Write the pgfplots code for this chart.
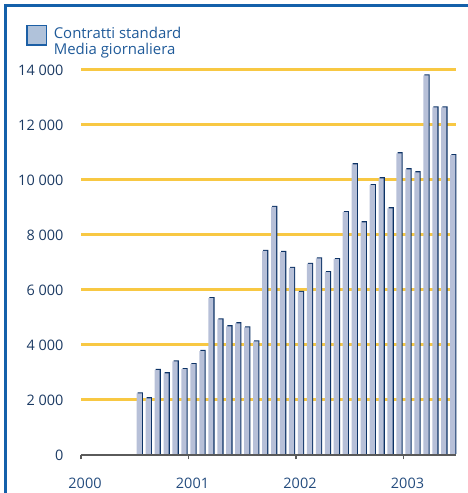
\documentclass[border=0pt]{standalone}
\usepackage{pgfplots}
\pgfplotsset{compat=1.18}
\usepackage{pgfplotstable}
\usepackage{fontspec}
\setmainfont{Open Sans}

\definecolor{barfill}{HTML}{B7C0D8}
\definecolor{bardark}{HTML}{0D3366}
\definecolor{gridgold}{HTML}{F8C843}
\definecolor{frameblue}{HTML}{1460AA}
\definecolor{legsq}{HTML}{B0C2DA}
\definecolor{legsqborder}{HTML}{1C5FA5}
\definecolor{legtext}{HTML}{1F5A99}
\definecolor{ticktext}{HTML}{1B3A63}
\definecolor{yeartext}{HTML}{244C7E}
\definecolor{axisgray}{HTML}{5A5A5A}

% mesi da gennaio 2000 (centro del mese), contratti medi giornalieri
\pgfplotstableread{
m val
6.5 2240
7.5 2060
8.5 3090
9.5 2970
10.5 3400
11.5 3120
12.5 3300
13.5 3780
14.5 5700
15.5 4930
16.5 4680
17.5 4790
18.5 4640
19.5 4130
20.5 7420
21.5 9020
22.5 7380
23.5 6800
24.5 5930
25.5 6950
26.5 7150
27.5 6650
28.5 7120
29.5 8830
30.5 10570
31.5 8460
32.5 9810
33.5 10060
34.5 8970
35.5 10970
36.5 10390
37.5 10280
38.5 13800
39.5 12640
40.5 12640
41.5 10900
}\contratti

\begin{document}
\begin{tikzpicture}
\useasboundingbox (0,0) rectangle (468bp,493bp);
\draw[frameblue, line width=3bp, line join=miter] (5.5bp,0) -- (5.5bp,487.5bp) -- (468bp,487.5bp);
\begin{axis}[
    at={(81bp,38bp)}, anchor=south west,
    width=375bp, height=385bp, scale only axis,
    xmin=0, xmax=41.86, ymin=0, ymax=14000,
    clip=false,
    axis x line*=bottom, axis y line*=left,
    y axis line style={draw=none},
    x axis line style={axisgray, line width=1.2bp},
    xtick={0,12,24,36}, xticklabels={2000,2001,2002,2003},
    tick align=outside, major tick length=4.5bp,
    xtick style={axisgray, line width=1.2bp},
    ytick={0,2000,...,14000},
    ytick style={draw=none},
    scaled y ticks=false,
    /pgf/number format/.cd, 1000 sep={\ }, assume math mode=true, /pgfplots/.cd,
    yticklabel style={font=\fontsize{14.5}{16}\selectfont, color=ticktext, anchor=east, inner sep=0pt, xshift=-13bp},
    xticklabel style={font=\fontsize{14.5}{16}\selectfont, color=yeartext, inner sep=0pt, xshift=4bp, yshift=-18bp},
    legend style={at={(-0.1464,1.117)}, anchor=north west, draw=none, fill=none,
        inner sep=0pt, font=\fontsize{15}{16.6}\selectfont, text=legtext,
        nodes={inner sep=0pt}, column sep=7bp},
    legend cell align=left,
]
% linee guida orizzontali dietro le barre
\pgfplotsinvokeforeach{2000,4000,6000,8000,10000,12000,14000}{
    \draw[gridgold, line width=3bp] (axis cs:0,#1) -- (axis cs:41.86,#1);
}
\addplot[ybar, bar width=5.2bp, bar shift=1.1bp, yshift=1.1bp, fill=bardark, draw=none, forget plot] table[x=m, y=val] {\contratti};
\addplot[ybar, bar width=5.2bp, bar shift=0bp, fill=barfill, draw=none, forget plot]
    table[x=m, y=val] {\contratti};
\addlegendimage{legend image code/.code={\draw[legsqborder, fill=legsq, line width=1.2bp] (0bp,-11.8bp) rectangle (19.3bp,7.5bp);}}
\addlegendentry{\begin{tabular}[t]{@{}l@{}}Contratti standard\\Media giornaliera\end{tabular}}
\draw[axisgray, line width=1.2bp] (axis cs:0,0) -- (axis cs:41.86,0);
\end{axis}
\end{tikzpicture}
\end{document}
